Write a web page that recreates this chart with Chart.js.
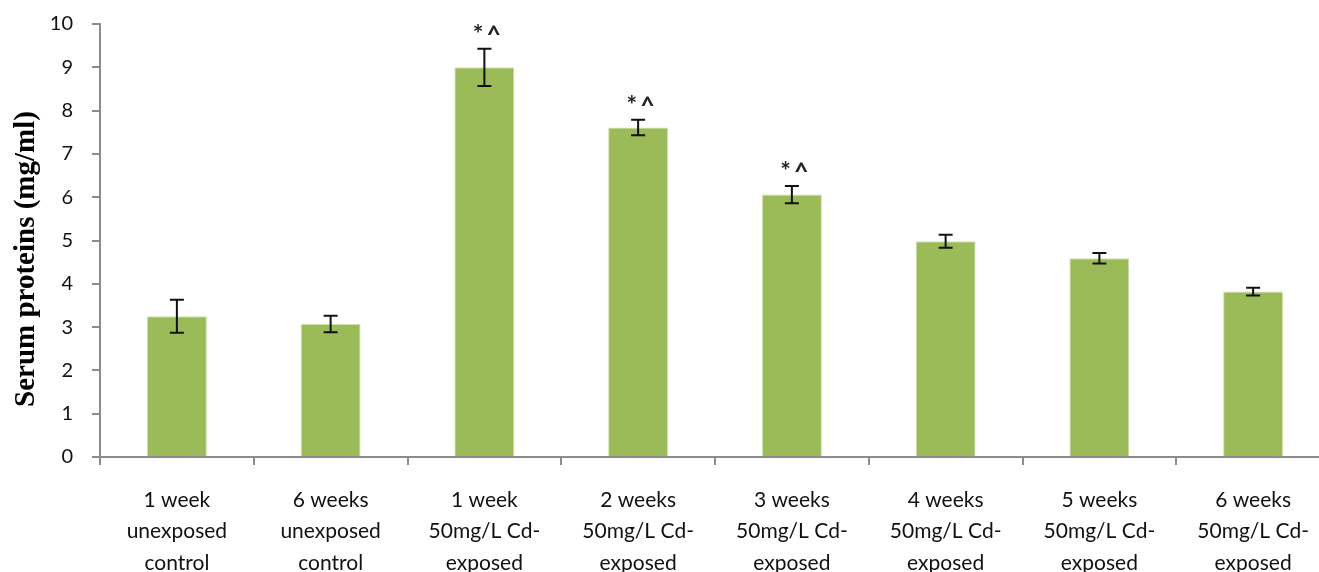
<!DOCTYPE html>
<html>
<head>
<meta charset="utf-8">
<script src="https://cdn.jsdelivr.net/npm/chart.js@4.4.0/dist/chart.umd.min.js"></script>
<style>
  html, body { margin: 0; padding: 0; background: #fff; overflow: hidden; }
  #wrap { width: 1340px; height: 572px; }
</style>
</head>
<body>
<div id="wrap"><canvas id="chart"></canvas></div>
<script>
var groups = [
    ["1 week", "unexposed", "control"],
    ["6 weeks", "unexposed", "control"],
    ["1 week", "50mg/L Cd-", "exposed"],
    ["2 weeks", "50mg/L Cd-", "exposed"],
    ["3 weeks", "50mg/L Cd-", "exposed"],
    ["4 weeks", "50mg/L Cd-", "exposed"],
    ["5 weeks", "50mg/L Cd-", "exposed"],
    ["6 weeks", "50mg/L Cd-", "exposed"]
];
var proteins = [3.25, 3.07, 9.0, 7.61, 6.06, 4.98, 4.59, 3.82];
var errors = [0.38, 0.19, 0.43, 0.18, 0.2, 0.15, 0.12, 0.09];
var marks = ["", "", "*^", "*^", "*^", "", "", ""];

var axisGrey = "#8c8c8c";

// error bars with caps, then significance marks above them
var errorBars = {
    id: "errorBars",
    afterDatasetsDraw: function (chart) {
        var ctx = chart.ctx;
        var y = chart.scales.y;
        var meta = chart.getDatasetMeta(0);
        ctx.save();
        ctx.strokeStyle = "#111";
        ctx.lineWidth = 2;
        meta.data.forEach(function (bar, i) {
            var x = bar.x;
            var top = y.getPixelForValue(proteins[i] + errors[i]);
            var bot = y.getPixelForValue(proteins[i] - errors[i]);
            ctx.beginPath();
            ctx.moveTo(x, top); ctx.lineTo(x, bot);
            ctx.moveTo(x - 7, top); ctx.lineTo(x + 7, top);
            ctx.moveTo(x - 7, bot); ctx.lineTo(x + 7, bot);
            ctx.stroke();
            if (marks[i]) {
                ctx.fillStyle = "#222";
                ctx.font = "bold 25px 'Lato'";
                ctx.letterSpacing = "3px";
                ctx.textAlign = "center";
                ctx.textBaseline = "middle";
                ctx.fillText(marks[i], x + 4, top - 14);
            }
        });
        ctx.restore();
    }
};

// rotated serif axis title
var yTitle = {
    id: "yTitle",
    afterDraw: function (chart) {
        var ctx = chart.ctx;
        ctx.save();
        ctx.translate(27, 259);
        ctx.rotate(-Math.PI / 2);
        ctx.fillStyle = "#000";
        ctx.font = "bold 29px 'Liberation Serif'";
        ctx.textAlign = "center";
        ctx.textBaseline = "middle";
        ctx.fillText("Serum proteins (mg/ml)", 0, 0);
        ctx.restore();
    }
};

new Chart(document.getElementById("chart").getContext("2d"), {
    type: "bar",
    data: {
        labels: groups,
        datasets: [{
            data: proteins,
            backgroundColor: "#9bbb59",
            borderColor: "#d2e2b0",
            borderWidth: 1,
            barPercentage: 0.78,
            categoryPercentage: 0.5
        }]
    },
    options: {
        responsive: true,
        maintainAspectRatio: false,
        animation: false,
        layout: { padding: { top: 24, right: 10, left: 0, bottom: 0 } },
        plugins: { legend: { display: false }, tooltip: { enabled: false } },
        scales: {
            x: {
                afterFit: function (s) { s.height = 115; },
                grid: { drawOnChartArea: false, color: axisGrey, tickLength: 8, lineWidth: 2 },
                border: { color: axisGrey, width: 2 },
                ticks: {
                    color: "#111",
                    font: { family: "Lato", size: 21, lineHeight: 1.5 },
                    padding: 19,
                    maxRotation: 0,
                    autoSkip: false
                }
            },
            y: {
                min: 0,
                max: 10,
                afterFit: function (s) {
                    s.width = 100;
                    s.paddingTop = 0;
                    s.paddingBottom = 0;
                },
                grid: { drawOnChartArea: false, color: axisGrey, tickLength: 8, lineWidth: 2 },
                border: { color: axisGrey, width: 2 },
                ticks: {
                    stepSize: 1,
                    color: "#111",
                    font: { family: "Lato", size: 20 },
                    padding: 19
                }
            }
        }
    },
    plugins: [errorBars, yTitle]
});
</script>
</body>
</html>
